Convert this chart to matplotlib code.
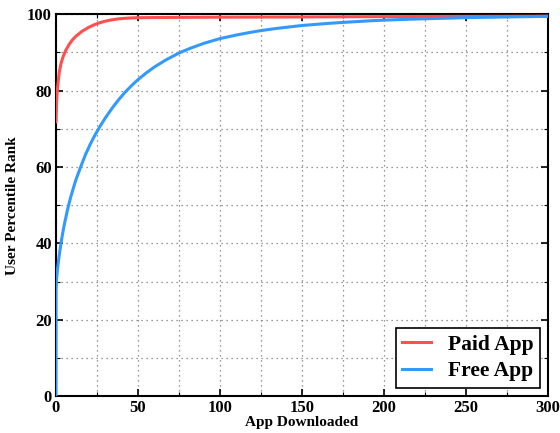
import matplotlib
matplotlib.use("Agg")
import matplotlib.pyplot as plt
from matplotlib.ticker import MultipleLocator

# Data
paid_x = [0, 0.3, 0.6, 1, 1.5, 2, 3, 4, 5, 6, 8, 10, 12, 14, 16, 18, 20, 23, 26, 30,
          34, 38, 42, 46, 50, 60, 80, 100, 150, 200, 250, 300]
paid_y = [71.8, 76.5, 79.0, 81.0, 83.0, 84.8, 87.0, 88.5, 89.6, 90.6, 92.1, 93.3, 94.2,
          94.9, 95.6, 96.1, 96.6, 97.2, 97.7, 98.2, 98.55, 98.8, 98.95, 99.05, 99.1,
          99.15, 99.2, 99.25, 99.3, 99.4, 99.45, 99.5]

free_x = [0, 0.05, 0.3, 0.8, 1.4, 2.2, 3, 4, 5, 7, 9, 12, 15, 18, 21, 24, 27, 30, 34,
          38, 42, 46, 50, 55, 60, 67, 75, 82, 90, 100, 110, 118, 125, 135, 150, 165,
          175, 190, 200, 220, 250, 275, 300]
free_y = [0, 28.0, 30.5, 32.8, 35.0, 37.6, 39.9, 42.5, 44.8, 48.8, 52.2, 56.5, 60.0,
          63.3, 66.1, 68.56, 70.78, 72.82, 75.3, 77.54, 79.54, 81.3, 82.9, 84.65, 86.2,
          88.06, 89.87, 91.13, 92.38, 93.64, 94.58, 95.23, 95.74, 96.33, 97.07, 97.59,
          97.88, 98.26, 98.47, 98.77, 99.12, 99.31, 99.47]

labels = ["Paid App", "Free App"]
colors = ["#ff4f4f", "#3399ff"]

plt.rcParams['font.family'] = ['Liberation Serif', 'DejaVu Serif']

fig = plt.figure(figsize=(5.6, 4.33), dpi=100)
ax = fig.add_axes([0.1, 0.085, 0.879, 0.882])

ax.plot(paid_x, paid_y, color=colors[0], lw=2.2, label=labels[0], zorder=3)
ax.plot(free_x, free_y, color=colors[1], lw=2.2, label=labels[1], zorder=3)

ax.set_xlim(0, 300)
ax.set_ylim(0, 100)
ax.xaxis.set_major_locator(MultipleLocator(50))
ax.xaxis.set_minor_locator(MultipleLocator(25))
ax.yaxis.set_major_locator(MultipleLocator(20))
ax.yaxis.set_minor_locator(MultipleLocator(10))

ax.grid(True, which='both', color='#777777', linestyle=(0, (1, 3)), lw=0.9)
ax.tick_params(which='both', direction='in', top=True, right=True, pad=3)
ax.tick_params(which='major', length=5, width=1.2)
ax.tick_params(which='minor', length=3, width=0.8)
for lab in ax.get_xticklabels() + ax.get_yticklabels():
    lab.set_fontweight('bold')
    lab.set_fontsize(12)
for s in ax.spines.values():
    s.set_linewidth(1.5)

ax.set_xlabel("App Downloaded", fontsize=11, fontweight='bold', labelpad=0)
ax.set_ylabel("User Percentile Rank", fontsize=11, fontweight='bold', labelpad=6)

leg = ax.legend(loc='lower right', fancybox=False, framealpha=1, edgecolor='black',
                prop={'weight': 'bold', 'size': 15.5}, handlelength=1.35,
                handletextpad=0.75, borderpad=0.3, labelspacing=0.3,
                borderaxespad=0.4)
leg.set_zorder(5)
leg.get_frame().set_linewidth(1.2)

fig.savefig("out.png", dpi=100)
